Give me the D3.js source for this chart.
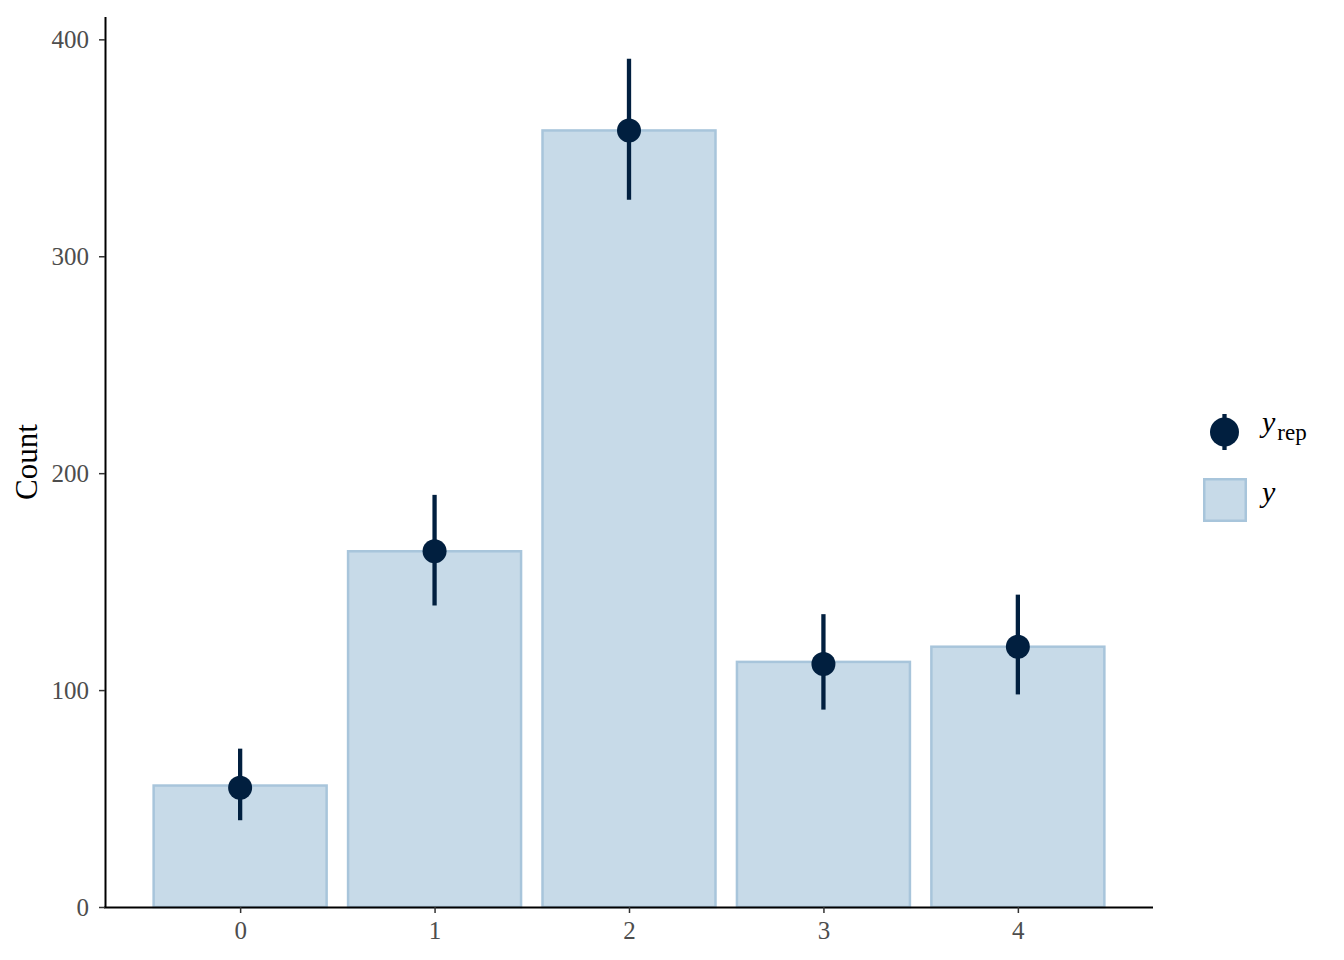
<!DOCTYPE html>
<html>
<head>
<meta charset="utf-8">
<script src="https://cdn.jsdelivr.net/npm/d3@7"></script>
<style>
  body { margin: 0; background: #fff; }
  text { font-family: "Liberation Serif", "Times New Roman", serif; }
</style>
</head>
<body>
<div id="chart"></div>
<script>
// observed counts and replicated summaries
var categories = [0, 1, 2, 3, 4];
var yCounts = [56, 164, 358, 113, 120];
var repMid = [55, 164, 358, 112, 120];
var repLo = [40, 139, 326, 91, 98];
var repHi = [73, 190, 391, 135, 144];
var yTicks = [0, 100, 200, 300, 400];

var W = 1344, H = 960;
var margin = {top: 17, right: 191, bottom: 53, left: 105},
  width = W - margin.left - margin.right,
  height = H - margin.top - margin.bottom;

var x = d3.scaleLinear().domain([-0.695, 4.695]).range([0, width]);
var y = d3.scaleLinear().domain([0, 410.3]).range([height, 0]);
var barW = x(0.45) - x(-0.45);

var svg = d3.select("#chart").append("svg")
  .attr("width", W)
  .attr("height", H);

var g = svg.append("g")
  .attr("transform", "translate(" + margin.left + "," + margin.top + ")");

// bars
g.selectAll(".bar")
  .data(categories)
  .enter()
  .append("rect")
  .attr("class", "bar")
  .attr("x", function(d) { return x(d) - barW / 2 + 1; })
  .attr("width", barW - 2)
  .attr("y", function(d, i) { return y(yCounts[i]); })
  .attr("height", function(d, i) { return height - y(yCounts[i]); })
  .style("fill", "#c7dae8")
  .style("stroke", "#a8c5db")
  .style("stroke-width", 2.5);

// error bars
g.selectAll(".err")
  .data(categories)
  .enter()
  .append("line")
  .attr("x1", function(d) { return x(d); })
  .attr("x2", function(d) { return x(d); })
  .attr("y1", function(d, i) { return y(repLo[i]); })
  .attr("y2", function(d, i) { return y(repHi[i]); })
  .style("stroke", "#011f3f")
  .style("stroke-width", 4.3);

g.selectAll(".pt")
  .data(categories)
  .enter()
  .append("circle")
  .attr("cx", function(d) { return x(d); })
  .attr("cy", function(d, i) { return y(repMid[i]); })
  .attr("r", 12)
  .style("fill", "#011f3f");

// axes
var xAxis = d3.axisBottom(x).tickValues(categories).tickFormat(d3.format("d"))
  .tickSizeInner(6).tickSizeOuter(0).tickPadding(8);
var yAxis = d3.axisLeft(y).tickValues(yTicks).tickFormat(d3.format("d"))
  .tickSizeInner(6).tickSizeOuter(0).tickPadding(10);

var gx = g.append("g")
  .attr("transform", "translate(0," + height + ")")
  .call(xAxis);
var gy = g.append("g").call(yAxis);

[gx, gy].forEach(function(a) {
  a.attr("font-family", null).attr("font-size", null);
  a.select(".domain").style("stroke", "#000").style("stroke-width", 2);
  a.selectAll(".tick line").style("stroke", "#333").style("stroke-width", 1.5);
  a.selectAll(".tick text")
    .style("font-size", "25px")
    .style("fill", "#4d4d4d");
});
gx.select(".domain").attr("d", "M-1,0.5H" + width);
gy.select(".domain").attr("d", "M0.5," + height + "V0");

svg.append("text")
  .attr("transform", "translate(37," + (margin.top + height / 2) + ") rotate(-90)")
  .attr("text-anchor", "middle")
  .style("font-size", "31px")
  .style("fill", "#000")
  .text("Count");

// legend
var lg = svg.append("g").attr("transform", "translate(1203,410)");
lg.append("line")
  .attr("x1", 21.5).attr("x2", 21.5).attr("y1", 4).attr("y2", 40)
  .style("stroke", "#011f3f").style("stroke-width", 4.3);
lg.append("circle")
  .attr("cx", 21.5).attr("cy", 22).attr("r", 14.5)
  .style("fill", "#011f3f");
var t1 = lg.append("text").attr("x", 59).attr("y", 22).style("font-size", "30px");
t1.append("tspan").style("font-style", "italic").text("y");
t1.append("tspan").attr("dy", 8).attr("dx", 2).style("font-size", "23px").text("rep");

lg.append("rect")
  .attr("x", 1.25).attr("y", 69.25).attr("width", 41.5).attr("height", 41.5)
  .style("fill", "#c7dae8")
  .style("stroke", "#a8c5db")
  .style("stroke-width", 2.5);
lg.append("text").attr("x", 59).attr("y", 92)
  .style("font-size", "30px").style("font-style", "italic").text("y");
</script>
</body>
</html>
